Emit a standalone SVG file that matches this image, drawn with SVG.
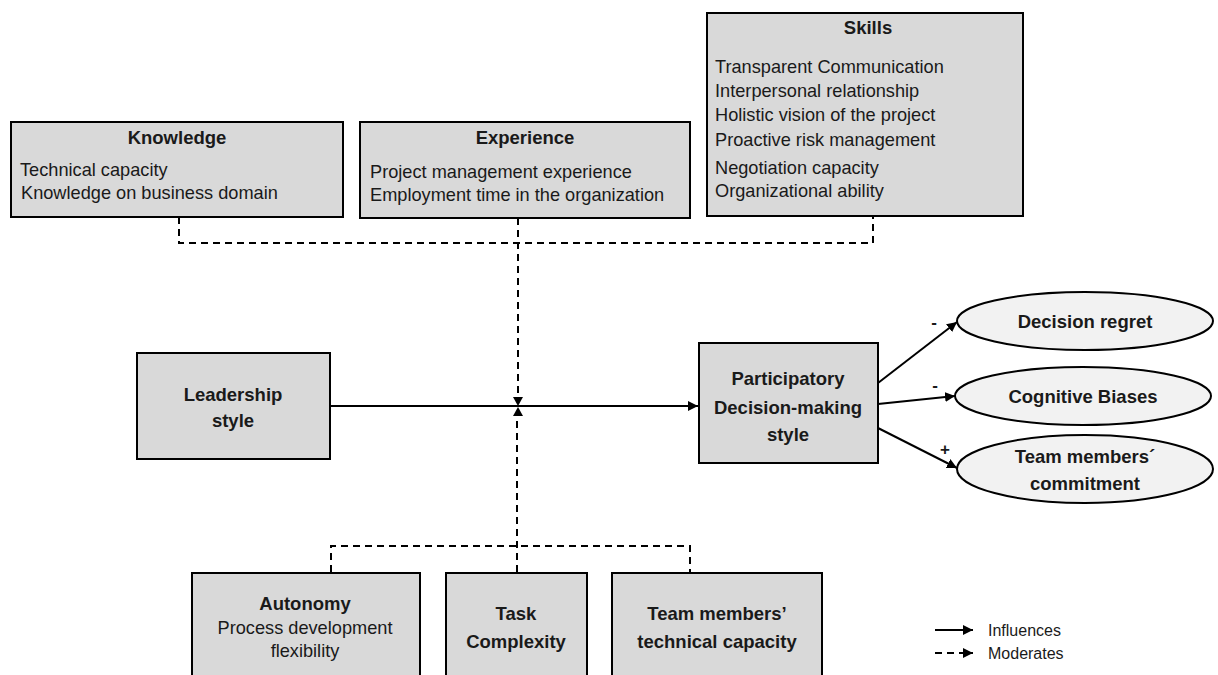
<svg xmlns="http://www.w3.org/2000/svg" width="1218" height="675" viewBox="0 0 1218 675">
  <defs>
    <marker id="arrow" viewBox="0 0 10 10" refX="10" refY="5" markerWidth="10" markerHeight="10" markerUnits="userSpaceOnUse" orient="auto">
      <path d="M0,0 L10,5 L0,10 z" fill="#000"/>
    </marker>
    <style>
      .box { fill: #d9d9d9; stroke: #000; stroke-width: 2; }
      .oval { fill: #f2f2f2; stroke: #000; stroke-width: 2; }
      .solid { fill: none; stroke: #000; stroke-width: 2; }
      .dash { fill: none; stroke: #000; stroke-width: 2; stroke-dasharray: 7 5; }
      text { font-family: "Liberation Sans", Arial, sans-serif; fill: #1a1a1a; }
      .title { font-size: 18.5px; font-weight: bold; text-anchor: middle; }
      .item { font-size: 18.2px; }
      .itemc { font-size: 18.2px; text-anchor: middle; }
      .sign { font-size: 17px; font-weight: bold; text-anchor: middle; }
      .legend { font-size: 16px; }
    </style>
  </defs>

  <!-- connectors -->
  <g id="connectors">
    <!-- upper moderators bracket -->
    <polyline class="dash" points="179,217 179,243 873,243 873,216"/>
    <line class="dash" x1="518" y1="218" x2="518" y2="396"/>
    <!-- lower moderators bracket -->
    <polyline class="dash" points="331,572 331,546 690,546 690,572"/>
    <line class="dash" x1="517" y1="572" x2="517" y2="418"/>
    <!-- moderation arrowheads on the main path -->
    <path d="M513,397 L523,397 L518,406 z" fill="#000"/>
    <path d="M513,416 L523,416 L518,407 z" fill="#000"/>
    <!-- leadership -> participatory -->
    <line class="solid" x1="330" y1="406" x2="698" y2="406" marker-end="url(#arrow)"/>
    <!-- outcomes -->
    <line class="solid" x1="878" y1="383" x2="957" y2="322" marker-end="url(#arrow)"/>
    <line class="solid" x1="878" y1="404" x2="955" y2="396" marker-end="url(#arrow)"/>
    <line class="solid" x1="878" y1="428" x2="957" y2="468" marker-end="url(#arrow)"/>
    <text class="sign" x="934" y="328">-</text>
    <text class="sign" x="935" y="391">-</text>
    <text class="sign" x="945" y="455">+</text>
  </g>

  <g id="knowledge">
    <rect class="box" x="11" y="122" width="332" height="95"/>
    <text class="title" x="177" y="144">Knowledge</text>
    <text class="item" x="20" y="176">Technical capacity</text>
    <text class="item" x="21" y="199">Knowledge on business domain</text>
  </g>

  <g id="experience">
    <rect class="box" x="360" y="122" width="330" height="96"/>
    <text class="title" x="525" y="144">Experience</text>
    <text class="item" x="370" y="178">Project management experience</text>
    <text class="item" x="370" y="201">Employment time in the organization</text>
  </g>

  <g id="skills">
    <rect class="box" x="707" y="13" width="316" height="203"/>
    <text class="title" x="868" y="34">Skills</text>
    <text class="item" x="715" y="73">Transparent Communication</text>
    <text class="item" x="715" y="97">Interpersonal relationship</text>
    <text class="item" x="715" y="121">Holistic vision of the project</text>
    <text class="item" x="715" y="146">Proactive risk management</text>
    <text class="item" x="715" y="174">Negotiation capacity</text>
    <text class="item" x="715" y="197">Organizational ability</text>
  </g>

  <g id="leadership">
    <rect class="box" x="137" y="353" width="193" height="106"/>
    <text class="title" x="233" y="401">Leadership</text>
    <text class="title" x="233" y="427">style</text>
  </g>

  <g id="participatory">
    <rect class="box" x="699" y="343" width="179" height="120"/>
    <text class="title" x="788" y="385">Participatory</text>
    <text class="title" x="788" y="414">Decision-making</text>
    <text class="title" x="788" y="441">style</text>
  </g>

  <g id="decision-regret">
    <ellipse class="oval" cx="1085" cy="321" rx="128" ry="29"/>
    <text class="title" x="1085" y="328">Decision regret</text>
  </g>

  <g id="cognitive-biases">
    <ellipse class="oval" cx="1083" cy="396" rx="128" ry="29"/>
    <text class="title" x="1083" y="403">Cognitive Biases</text>
  </g>

  <g id="commitment">
    <ellipse class="oval" cx="1085" cy="469" rx="128" ry="34"/>
    <text class="title" x="1085" y="463">Team members´</text>
    <text class="title" x="1085" y="490">commitment</text>
  </g>

  <g id="autonomy">
    <rect class="box" x="192" y="573" width="228" height="112"/>
    <text class="title" x="305" y="610">Autonomy</text>
    <text class="itemc" x="305" y="634">Process development</text>
    <text class="itemc" x="305" y="657">flexibility</text>
  </g>

  <g id="task-complexity">
    <rect class="box" x="446" y="573" width="141" height="112"/>
    <text class="title" x="516" y="620">Task</text>
    <text class="title" x="516" y="648">Complexity</text>
  </g>

  <g id="team-capacity">
    <rect class="box" x="612" y="573" width="210" height="112"/>
    <text class="title" x="717" y="620">Team members’</text>
    <text class="title" x="717" y="648">technical capacity</text>
  </g>

  <g id="legend">
    <line class="solid" x1="935" y1="630" x2="973" y2="630" stroke-width="1.5" marker-end="url(#arrow)"/>
    <text class="legend" x="988" y="636">Influences</text>
    <line class="dash" x1="935" y1="653" x2="973" y2="653" stroke-width="1.5" stroke-dasharray="4 3" marker-end="url(#arrow)"/>
    <text class="legend" x="988" y="659">Moderates</text>
  </g>
</svg>
